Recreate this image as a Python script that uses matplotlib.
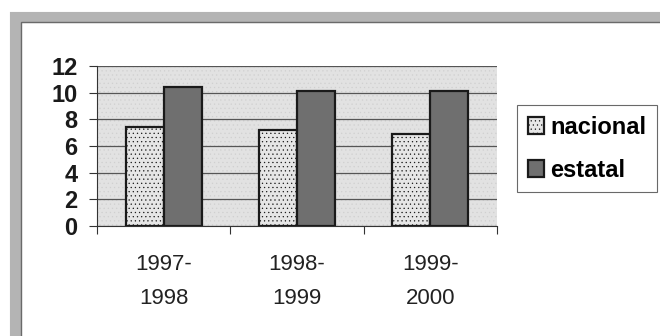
import numpy as np
import matplotlib.pyplot as plt
from matplotlib.patches import Rectangle

periodos = ["1997-\n1998", "1998-\n1999", "1999-\n2000"]
nacional = [7.4, 7.2, 6.9]
estatal = [10.4, 10.1, 10.1]
yticks = [0, 2, 4, 6, 8, 10, 12]

plt.rcParams['font.family'] = ['Liberation Sans', 'DejaVu Sans']
plt.rcParams['hatch.color'] = '#bdbdbd'
plt.rcParams['hatch.linewidth'] = 0.4

fig = plt.figure(figsize=(6.6, 3.36), dpi=100)
fig.patch.set_facecolor('white')

# textured frame around the whole chart
frame = Rectangle((15 / 660, -0.2), 1.2, 1 - 17 / 336 + 0.2, transform=fig.transFigure,
                  facecolor='none', edgecolor='#b4b4b4', linewidth=8, zorder=0)
fig.patches.append(frame)
inner = Rectangle((21 / 660, -0.2), 1.2, 1 - 22 / 336 + 0.2, transform=fig.transFigure,
                  facecolor='none', edgecolor='#6a6a6a', linewidth=1.0, zorder=0)
fig.patches.append(inner)

ax = fig.add_axes([97 / 660, 1 - 226 / 336, 400 / 660, 160 / 336])
ax.set_facecolor('#e2e2e2')
ax.add_patch(Rectangle((0, 0), 1, 1, transform=ax.transAxes, facecolor='none',
                       edgecolor='#d0d0d0', hatch='....', linewidth=0, zorder=0))

x = np.arange(len(periodos))
w = 0.285
ax.bar(x - w / 2, nacional, w, color='#e6e6e6', edgecolor='#1a1a1a', linewidth=1.6,
       hatch='....', label='nacional', zorder=3)
ax.bar(x + w / 2, estatal, w, color='#6f6f6f', edgecolor='#1a1a1a', linewidth=1.6,
       label='estatal', zorder=3)

ax.set_xlim(-0.5, 2.5)
ax.set_ylim(0, 12)
ax.set_yticks(yticks)
ax.set_yticklabels([str(v) for v in yticks], fontsize=17, fontweight='bold', color='#1a1a1a')
ax.yaxis.grid(True, color='#555555', linewidth=0.9, zorder=1)
ax.set_axisbelow(True)

ax.set_xticks([-0.5, 0.5, 1.5, 2.5])
ax.set_xticklabels([])
ax.set_xticks(x, minor=True)
ax.set_xticklabels(periodos, minor=True, fontsize=16, color='#222222', linespacing=1.85)
ax.tick_params(axis='x', which='minor', length=0, pad=20)
ax.tick_params(axis='x', which='major', length=6, color='#333333', direction='out')
ax.tick_params(axis='y', length=6, color='#333333', pad=8)

for s in ['top', 'right']:
    ax.spines[s].set_visible(False)
ax.spines['left'].set_color('#333333')
ax.spines['bottom'].set_color('#333333')

leg = ax.legend(loc='upper left', bbox_to_anchor=((517 - 97) / 400, (226 - 105) / 160),
                frameon=True, fancybox=False, edgecolor='#444444',
                handlelength=0.7, handleheight=0.7, handletextpad=0.25,
                labelspacing=0.85, borderpad=0.45, borderaxespad=0,
                prop={'weight': 'bold', 'size': 17})
leg.get_frame().set_linewidth(0.8)

fig.savefig('out.png', dpi=100)
